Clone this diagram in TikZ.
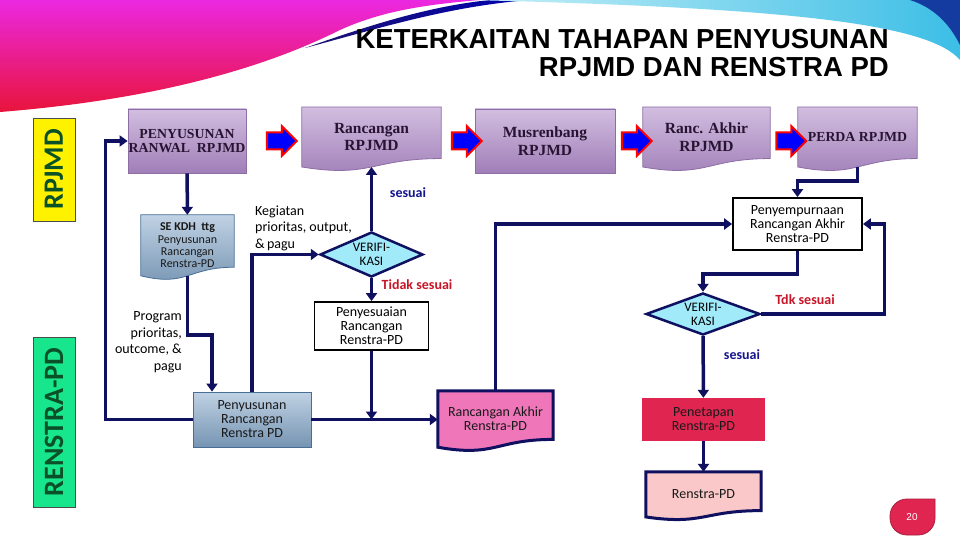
\documentclass[tikz,border=0pt]{standalone}
\usepackage{fontspec}
\setmainfont{Carlito}
\newfontfamily\titlefont{Liberation Sans}
\newfontfamily\serffont{Liberation Serif}
\usetikzlibrary{positioning,shapes.geometric,shapes.arrows,arrows.meta,backgrounds}

\definecolor{navy}{RGB}{16,16,96}
\definecolor{purT}{RGB}{210,190,224}
\definecolor{purB}{RGB}{160,126,184}
\definecolor{purD}{RGB}{140,110,165}
\definecolor{purtxt}{RGB}{40,20,50}
\definecolor{stlT}{RGB}{192,210,228}
\definecolor{stlB}{RGB}{118,148,178}
\definecolor{stlD}{RGB}{70,110,150}
\definecolor{vcyan}{RGB}{160,234,250}
\definecolor{hotpink}{RGB}{240,118,186}
\definecolor{crimson}{RGB}{224,38,80}
\definecolor{lpink}{RGB}{250,200,200}
\definecolor{lblred}{RGB}{200,22,40}
\definecolor{lblblue}{RGB}{22,22,140}
\definecolor{dkgreen}{RGB}{10,80,40}
\definecolor{mint}{RGB}{24,230,140}
\definecolor{swpink}{RGB}{235,40,225}
\definecolor{swred}{RGB}{232,20,60}
\definecolor{swnavy}{RGB}{30,20,110}
\definecolor{swcyanL}{RGB}{200,240,248}
\definecolor{swcyanR}{RGB}{60,190,230}
\definecolor{swdblue}{RGB}{20,60,160}

\begin{document}
\begin{tikzpicture}[x=1pt,y=-1pt,
  conn/.style={navy,line width=3.5pt,-{Triangle[length=8pt,width=11pt]}},
  purbox/.style={rectangle,top color=purT,bottom color=purB,draw=purD,line width=0.8pt,
    inner sep=0pt,align=center,text=purtxt,font=\serffont\bfseries\fontsize{15.5}{17.5}\selectfont},
  purdoc/.style={rectangle,inner sep=0pt,align=center,text=purtxt,
    font=\serffont\bfseries\fontsize{15.5}{17.5}\selectfont},
  capsfont/.style={font=\serffont\bfseries\fontsize{13.8}{14.5}\selectfont},
  docbox/.style={rectangle,inner sep=0pt,align=center,text=black!90,font=\fontsize{14}{14}\selectfont},
  flatbox/.style={rectangle,draw=black,line width=1.8pt,fill=white,inner sep=0pt,align=center,
    font=\fontsize{14}{14}\selectfont},
  stlbox/.style={rectangle,top color=stlT,bottom color=stlB,draw=stlD,line width=0.8pt,
    inner sep=0pt,align=center,text=black!90,font=\fontsize{14}{14}\selectfont},
  verif/.style={diamond,draw=navy,line width=2.5pt,fill=vcyan,inner sep=0pt,align=center,
    font=\fontsize{13}{14}\selectfont},
  blkarrow/.style={single arrow,draw=red,fill=blue,line width=2pt,minimum height=30pt,
    inner sep=7.5pt,single arrow head extend=6.5pt},
  lblok/.style={text=lblblue,font=\bfseries\fontsize{14}{16}\selectfont},
  lblno/.style={text=lblred,font=\bfseries\fontsize{14}{16}\selectfont},
  note/.style={inner sep=0pt,font=\fontsize{14}{16.5}\selectfont},
  sidelbl/.style={rotate=90,draw=black!70,line width=0.6pt,inner sep=0pt,text=dkgreen,
    font=\bfseries\fontsize{28}{30}\selectfont},
  titletxt/.style={inner sep=0pt,font=\titlefont\bfseries\fontsize{27.5}{24}\selectfont}]

\useasboundingbox (0,0) rectangle (960,540);

% swooshes
\shade[top color=swpink,bottom color=swred] (0,0) -- (480,0) .. controls (420,5) and (380,12) .. (340,30)
  .. controls (260,70) and (150,100) .. (0,112) -- cycle;
\shade[left color=swnavy,right color=blue!70!black] (305,48) .. controls (370,25) and (430,6) .. (490,0)
  -- (530,0) .. controls (450,6) and (380,28) .. cycle;
\shade[left color=swcyanL,right color=swcyanR] (470,0) -- (960,0) -- (960,60) .. controls (930,25) and (800,8) .. cycle;
\fill[swdblue] (910,0) -- (960,0) -- (960,45) .. controls (950,25) and (935,8) .. cycle;

% title
\node[titletxt,anchor=base east] (title1) at (889,49) {KETERKAITAN TAHAPAN PENYUSUNAN};
\node[titletxt,anchor=base east] (title2) at (889,77) {RPJMD DAN RENSTRA PD};

% side labels
\node[sidelbl,fill=yellow,minimum width=103,minimum height=42] (rpjmdlbl) at (54,169.5) {RPJMD};
\node[sidelbl,fill=mint,minimum width=170,minimum height=42] (renstralbl) at (54,422) {RENSTRA-PD};

% top row
\node[purbox,capsfont,minimum width=118,minimum height=64] (ranwal) at (187,141) {PENYUSUNAN\\RANWAL\ \ RPJMD};
\node[purdoc,minimum width=139,minimum height=59.6] (rrpjmd) at (371.5,137) {Rancangan\\RPJMD};
\node[purbox,minimum width=140,minimum height=64] (musren) at (545,141) {Musrenbang\\RPJMD};
\node[purdoc,minimum width=127,minimum height=59.6] (rakrpjmd) at (706.5,137) {Ranc. Akhir\\RPJMD};
\node[purdoc,capsfont,minimum width=119,minimum height=59.6] (perda) at (857.5,137) {PERDA RPJMD};

\foreach \i/\x in {1/277.5, 2/462.5, 3/632.5, 4/787} {
    \node[blkarrow] (arr\i) at (\x,141) {};
}

% renstra side
\node[docbox,minimum width=93,minimum height=60.6,font=\fontsize{12}{12.3}\selectfont] (sekdh) at (187.5,245.3) {\textbf{SE KDH\ \ ttg}\\Penyusunan\\Rancangan\\Renstra-PD};
\node[stlbox,minimum width=118,minimum height=55] (pr) at (252,419.5) {Penyusunan\\Rancangan\\Renstra PD};
\node[verif,aspect=2.3,minimum width=103,minimum height=45] (ver1) at (371.5,254.5) {VERIFI-\\KASI};
\node[flatbox,minimum width=114,minimum height=48] (peny) at (371.5,326) {Penyesuaian\\Rancangan\\Renstra-PD};
\node[docbox,minimum width=115,minimum height=56] (rakhir) at (495.5,419) {Rancangan Akhir\\Renstra-PD};
\node[flatbox,minimum width=129,minimum height=52] (penyemp) at (797.5,224) {Penyempurnaan\\Rancangan Akhir\\Renstra-PD};
\node[verif,aspect=2.74,minimum width=114,minimum height=42] (ver2) at (703,314) {VERIFI-\\KASI};
\node[docbox,fill=crimson,minimum width=123,minimum height=43] (penet) at (703.5,419.5) {Penetapan\\Renstra-PD};
\node[docbox,minimum width=115,minimum height=44.7] (renstra) at (703.5,494.4) {Renstra-PD};

% document shapes
\begin{scope}[on background layer]
\fill[white] (0,0) rectangle (960,540);
\foreach \n/\h/\t/\b/\d/\w in {rrpjmd/64/purT/purB/purD/0.8, rakrpjmd/64/purT/purB/purD/0.8,
    perda/64/purT/purB/purD/0.8, sekdh/65/stlT/stlB/stlD/0.8,
    rakhir/59/hotpink/hotpink/navy/3, renstra/48/lpink/lpink/navy/3} {
  \shade[top color=\t,bottom color=\b,draw=\d,line width=\w pt] (\n.north west) -- (\n.north east)
    -- ([yshift=0.132*\h pt]\n.south east) .. controls ([yshift=0.132*\h pt]\n.south)
    and ([yshift=-0.175*\h pt]\n.south) .. (\n.south west) -- cycle;
}
\end{scope}

% connectors
\coordinate (bend1) at (212,335);
\draw[conn] (ranwal) -- (sekdh);
\draw[conn] (sekdh.south) |- (bend1) -- (bend1 |- pr.north);
\draw[conn] (pr.west) -- ++(-87,0) |- (ranwal.west);
\draw[conn] (pr.north) |- (ver1.west);
\draw[conn] (ver1) -- (rrpjmd);
\draw[conn] (ver1) -- (peny);
\draw[conn] (peny) -- (peny.south |- pr.east);
\draw[conn] (pr.east) -- (pr.east -| rakhir.west);
\draw[conn] (rakhir.north) |- (penyemp.west);
\draw[conn] (perda.south) -- ++(0,14) -| (penyemp.north);
\draw[conn] (penyemp.south) -- ++(0,23) -| (ver2.north);
\draw[conn] (ver2.east) -- ++(123,0) |- (penyemp.east);
\draw[conn] (ver2) -- (penet);
\draw[conn] (penet) -- (renstra);

% labels
\node[note,anchor=west,align=left] (kegiatan) at (255,228) {Kegiatan\\prioritas, output,\\\&\,pagu};
\node[note,anchor=east,align=right] (program) at (182,342) {Program\\prioritas,\\outcome, \&\\pagu};
\node[lblok] (sesuai1) at (408,193) {sesuai};
\node[lblno] (tidak1) at (417,285) {Tidak sesuai};
\node[lblno] (tidak2) at (805,300) {Tdk sesuai};
\node[lblok] (sesuai2) at (742,355) {sesuai};

% page number
\filldraw[fill=crimson,draw=crimson!75!black,line width=0.8pt] (935,499) [rounded corners=17pt] -- (935,535) -- (890,535) -- (890,499) [sharp corners] -- cycle;
\node[text=white,font=\titlefont\fontsize{10}{12}\selectfont] (pgnum) at (912,517) {20};

\end{tikzpicture}
\end{document}
